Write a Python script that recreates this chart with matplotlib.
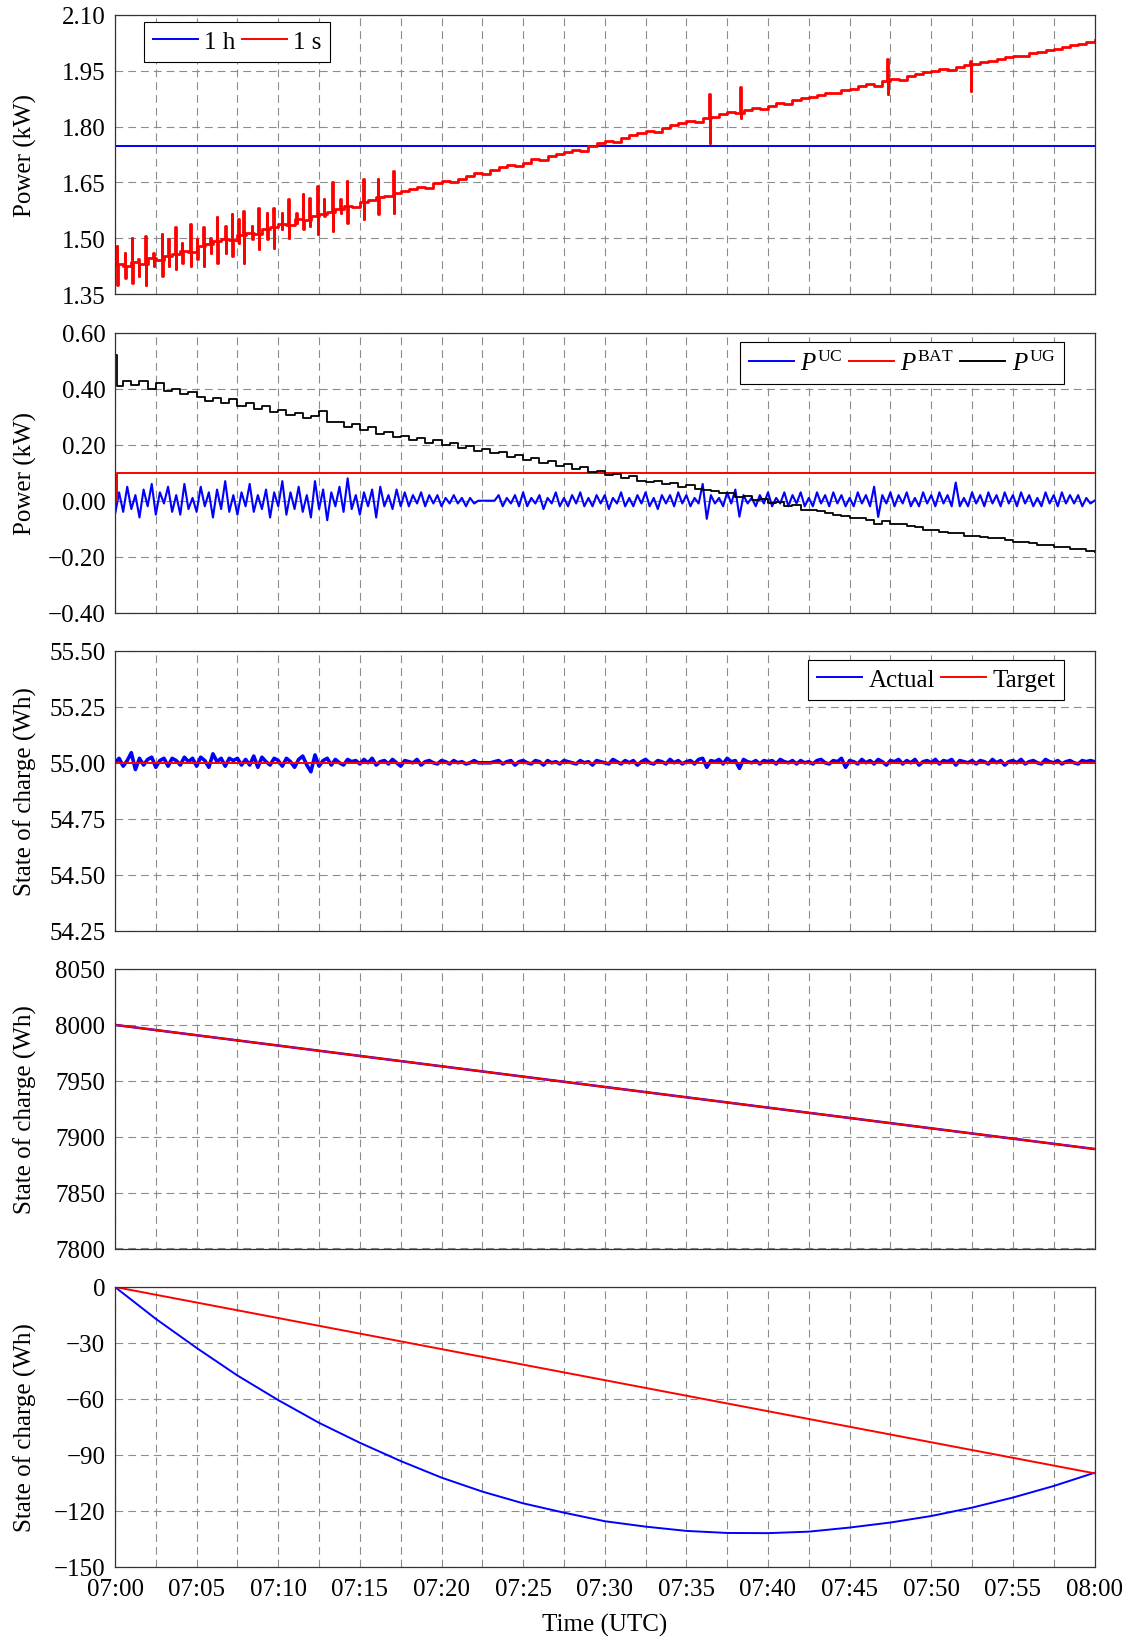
"""
Stacked time series of power and state of charge between 07:00 and 08:00.
"""
import numpy as np
import matplotlib
matplotlib.use('Agg')
import matplotlib.pyplot as plt
from matplotlib.ticker import MultipleLocator, FuncFormatter

# ---------------------------------------------------------------- data
# time in minutes after 07:00
x_ticks = [0, 5, 10, 15, 20, 25, 30, 35, 40, 45, 50, 55, 60]
x_tick_labels = ['07:00', '07:05', '07:10', '07:15', '07:20', '07:25', '07:30',
                 '07:35', '07:40', '07:45', '07:50', '07:55', '08:00']

# panel 1: load power (kW)
load_1h_t = [0, 60]
load_1h = [1.748, 1.748]
load_1s = [
    1.432, 1.425, 1.436, 1.430, 1.447, 1.441, 1.452, 1.458, 1.466, 1.462,
    1.478, 1.484, 1.492, 1.499, 1.496, 1.508, 1.515, 1.512, 1.526, 1.531,
    1.538, 1.535, 1.551, 1.549, 1.560, 1.566, 1.571, 1.578, 1.586, 1.584,
    1.598, 1.604, 1.610, 1.613, 1.622, 1.626, 1.631, 1.637, 1.634, 1.648,
    1.653, 1.650, 1.660, 1.667, 1.674, 1.672, 1.684, 1.690, 1.696, 1.694,
    1.703, 1.712, 1.709, 1.720, 1.726, 1.731, 1.738, 1.735, 1.748, 1.756,
    1.761, 1.758, 1.770, 1.777, 1.782, 1.788, 1.786, 1.797, 1.804, 1.809,
    1.815, 1.812, 1.822, 1.826, 1.833, 1.838, 1.836, 1.844, 1.850, 1.848,
    1.856, 1.863, 1.860, 1.872, 1.876, 1.878, 1.885, 1.891, 1.889, 1.898,
    1.900, 1.908, 1.913, 1.910, 1.922, 1.927, 1.925, 1.936, 1.941, 1.947,
    1.950, 1.954, 1.952, 1.960, 1.964, 1.967, 1.972, 1.976, 1.982, 1.986,
    1.990, 1.988, 1.996, 2.000, 2.004, 2.008, 2.012, 2.018, 2.022, 2.028,
    2.032]
spike_t = [0.1, 0.6, 1.02, 1.43, 1.84, 2.35, 2.86, 3.27, 3.68, 4.08, 4.6, 5.0,
           5.4, 5.82, 6.23, 6.74, 7.15, 7.56, 7.86, 8.37, 8.78, 9.29, 9.70,
           10.2, 10.6, 11.1, 11.5, 11.9, 12.4, 12.8, 13.3, 13.8, 14.2, 15.2,
           16.1, 17.05, 36.4, 38.3, 47.3, 52.4]
spike_hi = [1.479, 1.461, 1.502, 1.444, 1.506, 1.461, 1.511, 1.497, 1.529,
            1.488, 1.538, 1.497, 1.529, 1.502, 1.556, 1.533, 1.564, 1.551,
            1.573, 1.533, 1.582, 1.569, 1.582, 1.569, 1.605, 1.569, 1.618,
            1.609, 1.641, 1.605, 1.650, 1.605, 1.654, 1.659, 1.659, 1.681,
            1.887, 1.905, 1.981, 1.976]
spike_lo = [1.376, 1.394, 1.381, 1.399, 1.376, 1.426, 1.399, 1.426, 1.417,
            1.435, 1.426, 1.444, 1.426, 1.461, 1.435, 1.461, 1.453, 1.488,
            1.435, 1.497, 1.470, 1.497, 1.475, 1.524, 1.502, 1.542, 1.524,
            1.533, 1.511, 1.560, 1.520, 1.569, 1.542, 1.551, 1.564, 1.569,
            1.757, 1.824, 1.887, 1.896]

# panel 2: power split (kW)
p_uc = [
    -0.05, 0.03, -0.04, 0.05, -0.03, 0.02, -0.06, 0.04, -0.02, 0.06,
    -0.05, 0.03, -0.01, 0.05, -0.04, 0.02, -0.05, 0.06, -0.03, 0.01,
    -0.04, 0.05, -0.02, 0.03, -0.06, 0.04, -0.03, 0.07, -0.04, 0.02,
    -0.05, 0.03, -0.02, 0.06, -0.04, 0.02, -0.03, 0.04, -0.06, 0.03,
    -0.02, 0.07, -0.05, 0.03, -0.03, 0.05, -0.04, 0.02, -0.06, 0.07,
    -0.03, 0.04, -0.07, 0.03, -0.02, 0.05, -0.04, 0.08, -0.03, 0.02,
    -0.05, 0.03, -0.02, 0.04, -0.06, 0.05, -0.02, 0.02, -0.03, 0.04,
    -0.02, 0.03, -0.02, 0.02, -0.01, 0.03, -0.02, 0.02, -0.01, 0.02,
    -0.02, 0.01, -0.01, 0.02, -0.01, 0.01, -0.02, 0.01, -0.01, 0.00,
    0.00, 0.00, 0.00, 0.00, 0.02, -0.02, 0.01, -0.01, 0.02, -0.02,
    0.03, -0.02, 0.01, -0.01, 0.02, -0.03, 0.01, -0.01, 0.03, -0.02,
    0.01, -0.02, 0.02, -0.01, 0.03, -0.02, 0.01, -0.02, 0.02, -0.01,
    0.02, -0.03, 0.01, -0.01, 0.03, -0.02, 0.01, -0.02, 0.02, -0.01,
    0.03, -0.02, 0.01, -0.03, 0.02, -0.01, 0.02, -0.02, 0.03, -0.01,
    0.02, -0.02, 0.01, -0.01, 0.06, -0.065, 0.02, -0.01, 0.01, -0.02,
    0.03, -0.01, 0.04, -0.057, 0.02, -0.01, 0.01, -0.02, 0.02, -0.01,
    0.03, -0.02, 0.01, -0.01, 0.03, -0.02, 0.02, -0.01, 0.03, -0.02,
    0.01, -0.02, 0.03, -0.01, 0.02, -0.02, 0.03, -0.01, 0.02, -0.02,
    0.01, -0.02, 0.03, -0.01, 0.02, -0.02, 0.05, -0.058, 0.02, -0.01,
    0.03, -0.02, 0.02, -0.01, 0.03, -0.02, 0.01, -0.02, 0.03, -0.01,
    0.02, -0.02, 0.03, -0.01, 0.02, -0.02, 0.065, -0.02, 0.01, -0.02,
    0.03, -0.01, 0.02, -0.02, 0.03, -0.01, 0.02, -0.02, 0.03, -0.01,
    0.02, -0.02, 0.03, -0.01, 0.02, -0.02, 0.01, -0.02, 0.03, -0.01,
    0.02, -0.02, 0.03, -0.01, 0.02, -0.01, 0.02, -0.02, 0.01, -0.01,
    0.00]
p_bat_t = [0, 0, 0.12, 0.12, 60]
p_bat = [0.10, 0.0, 0.0, 0.10, 0.10]
p_ug_start_t = [0, 0, 0.1]
p_ug_start = [0.0, 0.52, 0.41]
p_ug = [
    0.430, 0.414, 0.428, 0.401, 0.420, 0.392, 0.400, 0.380, 0.389, 0.372,
    0.358, 0.369, 0.349, 0.365, 0.338, 0.348, 0.328, 0.338, 0.318, 0.326,
    0.306, 0.315, 0.296, 0.303, 0.321, 0.282, 0.283, 0.265, 0.273, 0.252,
    0.265, 0.240, 0.247, 0.229, 0.233, 0.217, 0.224, 0.206, 0.216, 0.198,
    0.205, 0.188, 0.195, 0.178, 0.186, 0.169, 0.175, 0.158, 0.165, 0.147,
    0.154, 0.136, 0.143, 0.124, 0.131, 0.113, 0.120, 0.102, 0.107, 0.091,
    0.096, 0.081, 0.090, 0.071, 0.066, 0.072, 0.058, 0.065, 0.048, 0.055,
    0.041, 0.038, 0.035, 0.027, 0.027, 0.012, 0.016, 0.004, 0.005, -0.007,
    -0.005, -0.019, -0.017, -0.033, -0.034, -0.038, -0.044, -0.050, -0.055,
    -0.061, -0.061, -0.069, -0.085, -0.074, -0.083, -0.085, -0.092, -0.094,
    -0.106, -0.104, -0.111, -0.115, -0.117, -0.125, -0.126, -0.130, -0.135,
    -0.135, -0.142, -0.147, -0.149, -0.153, -0.157, -0.160, -0.164, -0.165,
    -0.173, -0.172, -0.181, -0.182]

# panel 3: ultracapacitor state of charge (Wh)
soc_uc_target = [55.0, 55.0]
soc_uc_dev = [
    0.00, 0.02, -0.015, 0.01, 0.045, -0.03, 0.02, -0.01, 0.015, 0.025,
    -0.02, 0.01, 0.02, -0.015, 0.02, 0.01, -0.01, 0.025, 0.005, 0.02,
    -0.015, 0.025, 0.01, -0.02, 0.04, 0.005, 0.02, -0.015, 0.02, 0.01,
    0.02, -0.01, 0.015, -0.01, 0.03, -0.02, 0.025, 0.005, -0.01, 0.02,
    0.01, -0.015, 0.02, 0.005, -0.02, 0.015, 0.03, -0.01, -0.04, 0.035,
    -0.015, 0.01, 0.02, -0.01, 0.015, 0.0, -0.01, 0.015, 0.005, 0.01,
    -0.005, 0.015, 0.0, 0.02, -0.01, 0.005, 0.01, -0.005, 0.015, 0.0,
    -0.015, 0.01, 0.005, 0.0, 0.015, -0.01, 0.005, 0.01, 0.0, -0.005,
    0.01, 0.005, -0.005, 0.01, 0.0, 0.005, -0.005, 0.0, 0.01, 0.0,
    0.0, 0.0, 0.0, 0.005, 0.01, -0.005, 0.005, 0.01, -0.01, 0.005,
    0.01, 0.0, -0.005, 0.01, 0.005, -0.01, 0.01, 0.0, 0.005, -0.005,
    0.01, 0.005, 0.0, -0.005, 0.01, 0.0, 0.005, -0.01, 0.01, 0.005,
    0.0, -0.005, 0.015, 0.005, -0.005, 0.01, 0.0, 0.01, -0.01, 0.005,
    0.015, 0.0, -0.005, 0.01, 0.005, -0.005, 0.015, 0.0, 0.01, -0.005,
    0.005, 0.01, -0.005, 0.015, 0.02, -0.02, 0.01, 0.005, 0.015, -0.005,
    0.02, 0.005, 0.01, -0.025, 0.015, 0.005, 0.0, 0.01, -0.005, 0.01,
    0.005, 0.01, -0.005, 0.015, 0.005, 0.0, 0.01, -0.005, 0.01, 0.0,
    0.005, -0.005, 0.01, 0.015, 0.0, -0.005, 0.01, 0.005, 0.02, -0.02,
    0.01, 0.005, -0.005, 0.015, 0.0, 0.01, -0.005, 0.015, 0.005, -0.01,
    0.01, 0.005, 0.015, -0.005, 0.01, 0.0, 0.015, -0.01, 0.005, 0.01,
    0.0, 0.015, -0.005, 0.01, 0.005, 0.015, -0.01, 0.01, 0.005, 0.0,
    0.01, -0.005, 0.01, 0.005, -0.005, 0.015, 0.0, 0.01, -0.01, 0.005,
    0.01, 0.0, 0.015, -0.005, 0.005, 0.01, 0.0, -0.005, 0.015, 0.005,
    0.0, 0.01, -0.005, 0.005, 0.01, 0.0, -0.005, 0.01, 0.005, 0.01,
    0.005]

# panel 4: battery state of charge (Wh)
soc_bat_t = [0, 30, 60]
soc_bat_actual = [8000, 7944.5, 7889]
soc_bat_target = [8000, 7944.5, 7889]

# panel 5: utility grid energy (Wh)
energy_t = [0, 2.5, 5, 7.5, 10, 12.5, 15, 17.5, 20, 22.5, 25, 27.5, 30, 32.5,
            35, 37.5, 40, 42.5, 45, 47.5, 50, 52.5, 55, 57.5, 60]
energy_actual = [0, -17.1, -32.7, -47.5, -60.7, -72.9, -83.6, -93.4, -102.3,
                 -109.8, -116.1, -121.1, -125.7, -128.6, -130.9, -132.0,
                 -132.1, -131.3, -129.1, -126.4, -122.9, -118.4, -113.0,
                 -106.8, -99.7]
energy_target_t = [0, 60]
energy_target = [0, -100]

# ---------------------------------------------------------------- layout
FIG_W, FIG_H = 1128, 1640
AX_LEFT, AX_RIGHT = 115, 1094.5
AX_TOPS = [15.7, 334, 652, 970, 1288]
AX_HEIGHT = 279.5

plt.rcParams['font.family'] = ['Liberation Serif', 'DejaVu Serif']
plt.rcParams['font.size'] = 18
plt.rcParams['mathtext.fontset'] = 'custom'
plt.rcParams['mathtext.rm'] = 'Liberation Serif'
plt.rcParams['mathtext.it'] = 'Liberation Serif:italic'

fig = plt.figure(figsize=(FIG_W / 100, FIG_H / 100), dpi=100)

axes = []
for top in AX_TOPS:
    rect = [AX_LEFT / FIG_W, 1 - (top + AX_HEIGHT) / FIG_H,
            (AX_RIGHT - AX_LEFT) / FIG_W, AX_HEIGHT / FIG_H]
    axes.append(fig.add_axes(rect))

t_half = np.arange(0, 60.01, 0.5)
t_quarter = np.arange(0, 60.01, 0.25)

BLUE = '#0000ff'
RED = '#ff0000'
GRID_KW = dict(color='#8c8c8c', linewidth=0.8, linestyle=(0, (7, 4.5)))


def minus_formatter(fmt):
    return FuncFormatter(lambda v, pos: (fmt % v).replace('-', '\u2212'))


def style_axis(ax, y_min, y_max, y_step, y_fmt, y_label):
    ax.set_xlim(0, 60)
    ax.set_ylim(y_min, y_max)
    ax.xaxis.set_major_locator(MultipleLocator(5))
    ax.xaxis.set_minor_locator(MultipleLocator(2.5))
    ax.yaxis.set_major_locator(MultipleLocator(y_step))
    ax.yaxis.set_major_formatter(minus_formatter(y_fmt))
    ax.grid(True, which='both', axis='x', **GRID_KW)
    ax.grid(True, which='major', axis='y', **GRID_KW)
    ax.set_axisbelow(True)
    ax.tick_params(which='both', direction='in', length=0, pad=7)
    ax.tick_params(axis='x', labelbottom=False)
    for spine in ax.spines.values():
        spine.set_linewidth(0.9)
        spine.set_color('#333333')
    ax.set_ylabel(y_label)
    ax.yaxis.set_label_coords(-0.080, 0.5)


def add_legend(ax, ncol, loc, anchor):
    leg = ax.legend(ncol=ncol, loc=loc, bbox_to_anchor=anchor,
                    borderaxespad=0, frameon=True, fancybox=False,
                    edgecolor='black', framealpha=1, handlelength=1.8,
                    handletextpad=0.25, columnspacing=0.25, borderpad=0.35)
    leg.get_frame().set_linewidth(0.8)
    for line in leg.get_lines():
        line.set_linewidth(1.4)


# panel 1
ax = axes[0]
style_axis(ax, 1.35, 2.10, 0.15, '%.2f', 'Power (kW)')
ax.plot(load_1h_t, load_1h, color=BLUE, lw=1.4, label='1 h')
# each spike jumps up, then down, then back to the value held before it
held = np.array(load_1s)[np.searchsorted(t_half, spike_t, side='right') - 1]
spike_t = np.array(spike_t)
t_red = np.concatenate([t_half, spike_t, spike_t + 0.03, spike_t + 0.06])
v_red = np.concatenate([load_1s, spike_hi, spike_lo, held])
order = np.argsort(t_red, kind='stable')
ax.plot(t_red[order], v_red[order], color=RED, lw=2.0,
        drawstyle='steps-post', label='1 s')
add_legend(ax, 2, 'upper left', (0.03, 0.975))

# panel 2
ax = axes[1]
style_axis(ax, -0.40, 0.60, 0.20, '%.2f', 'Power (kW)')
ax.plot(t_quarter, p_uc, color=BLUE, lw=1.5, label=r'$P^{\mathrm{UC}}$')
ax.plot(p_bat_t, p_bat, color=RED, lw=1.4, label=r'$P^{\mathrm{BAT}}$')
ug_t = np.concatenate([p_ug_start_t, t_half[1:]])
ug_v = np.concatenate([p_ug_start, p_ug])
ax.plot(ug_t, ug_v, color='black', lw=1.3, drawstyle='steps-post',
        label=r'$P^{\mathrm{UG}}$')
add_legend(ax, 3, 'upper right', (0.969, 0.968))

# panel 3
ax = axes[2]
style_axis(ax, 54.25, 55.50, 0.25, '%.2f', 'State of charge (Wh)')
ax.plot(t_quarter, np.array(soc_uc_dev) + 55.0, color=BLUE, lw=2.6,
        label='Actual')
ax.plot([0, 60], soc_uc_target, color=RED, lw=1.4, label='Target')
add_legend(ax, 2, 'upper right', (0.969, 0.968))

# panel 4
ax = axes[3]
style_axis(ax, 7800, 8050, 50, '%d', 'State of charge (Wh)')
ax.plot(soc_bat_t, soc_bat_actual, color=BLUE, lw=1.8)
ax.plot(soc_bat_t, soc_bat_target, color=RED, lw=1.4)

# panel 5
ax = axes[4]
style_axis(ax, -150, 0, 30, '%d', 'State of charge (Wh)')
ax.plot(energy_t, energy_actual, color=BLUE, lw=1.4)
ax.plot(energy_target_t, energy_target, color=RED, lw=1.4)
ax.set_xticks(x_ticks)
ax.set_xticklabels(x_tick_labels)
ax.tick_params(axis='x', labelbottom=True, pad=8)
ax.set_xlabel('Time (UTC)')
ax.xaxis.set_label_coords(0.5, -0.165)

fig.savefig('out.png', dpi=100)
